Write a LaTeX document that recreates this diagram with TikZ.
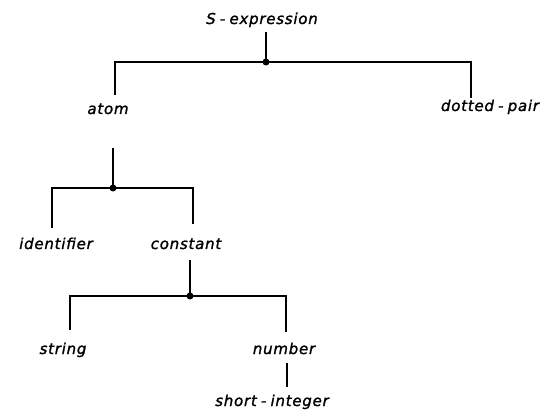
\documentclass[tikz,border=0pt]{standalone}
\usepackage{fontspec}
\setmainfont{DejaVu Sans}
\newfontfamily\lblfont[LetterSpace=5,FakeBold=1.4]{DejaVu Sans}
\begin{document}
\begin{tikzpicture}[x=1pt,y=-1pt,
  lbl/.style={font=\lblfont\fontsize{15}{17}\selectfont\itshape, inner sep=0pt, anchor=base},
  br/.style={line width=1.6pt},
  jn/.style={circle, fill=black, inner sep=0pt, minimum size=7pt}]
\useasboundingbox (0,0) rectangle (548,411);
% labels
\node[lbl] (sexp) at (262,24) {S\;-\;expression};
\node[lbl] (atom) at (108,114) {atom};
\node[lbl] (dp)   at (490,111) {dotted\;-\;pair};
\node[lbl] (ident) at (56,249) {identifier};
\node[lbl] (const) at (186,249) {constant};
\node[lbl] (str)  at (63,354) {string};
\node[lbl] (num)  at (284,354) {number};
\node[lbl] (si)   at (272,406) {short\;-\;integer};
% junction dots
\node[jn] (j1) at (266,62) {};
\node[jn] (j2) at (113,188) {};
\node[jn] (j3) at (190,296) {};
% corner points
\coordinate (c1l) at (115,62); \coordinate (c1r) at (471,62);
\coordinate (e1l) at (115,95); \coordinate (e1r) at (471,98);
\coordinate (c2l) at (52,188); \coordinate (c2r) at (193,188);
\coordinate (e2l) at (52,228); \coordinate (e2r) at (193,224);
\coordinate (c3l) at (70,296); \coordinate (c3r) at (286,296);
\coordinate (e3l) at (70,330); \coordinate (e3r) at (286,332);
\coordinate (s1) at (266,32); \coordinate (s2) at (113,148);
\coordinate (s3) at (190,260); \coordinate (s4a) at (287,363); \coordinate (s4b) at (287,387);
% branches
\draw[br] (s1) -- (j1.center);
\draw[br] (e1l) -- (c1l) -- (c1r) -- (e1r);
\draw[br] (s2) -- (j2.center);
\draw[br] (e2l) -- (c2l) -- (c2r) -- (e2r);
\draw[br] (s3) -- (j3.center);
\draw[br] (e3l) -- (c3l) -- (c3r) -- (e3r);
\draw[br] (s4a) -- (s4b);
\end{tikzpicture}
\end{document}
